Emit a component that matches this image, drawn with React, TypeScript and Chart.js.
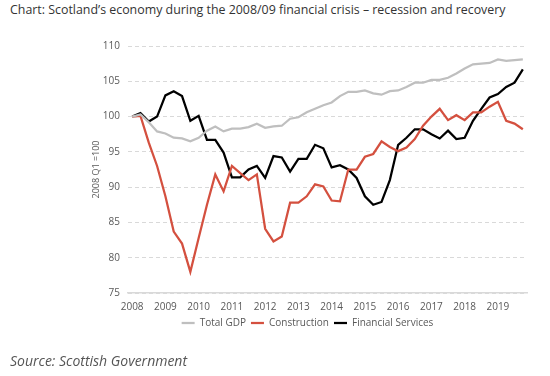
import React, { useEffect, useRef } from "react";
import { Chart, registerables } from "chart.js";

Chart.register(...registerables);

const years = ["2008", "2009", "2010", "2011", "2012", "2013", "2014", "2015", "2016", "2017", "2018", "2019"];
const quarters = years.flatMap((y) => [y + " Q1", y + " Q2", y + " Q3", y + " Q4"]);

const totalGDP = [
  100, 100.3, 99.2, 97.9, 97.6, 97.0, 96.9, 96.5, 97.0, 98.0, 98.6, 97.9,
  98.3, 98.3, 98.5, 99.0, 98.4, 98.6, 98.7, 99.7, 99.9, 100.6, 101.1, 101.6,
  102.0, 102.9, 103.5, 103.5, 103.7, 103.3, 103.1, 103.6, 103.7, 104.2, 104.8, 104.8,
  105.2, 105.2, 105.5, 106.1, 106.8, 107.4, 107.5, 107.6, 108.1, 107.9, 108.0, 108.1,
];
const construction = [
  100, 100.1, 96.3, 93.0, 88.7, 83.7, 82.0, 78.0, 82.8, 87.5, 91.8, 89.4,
  93.0, 92.0, 91.0, 91.8, 84.1, 82.3, 83.0, 87.8, 87.8, 88.7, 90.4, 90.1,
  88.1, 88.0, 92.5, 92.5, 94.3, 94.7, 96.5, 95.7, 95.1, 95.6, 96.8, 98.7,
  100.0, 101.1, 99.5, 100.2, 99.5, 100.6, 100.6, 101.4, 102.1, 99.4, 99.0, 98.2,
];
const financialServices = [
  100, 100.5, 99.3, 100.0, 103.0, 103.6, 102.9, 99.4, 100.1, 96.7, 96.7, 94.9,
  91.4, 91.4, 92.5, 93.0, 91.3, 94.4, 94.2, 92.2, 94.0, 94.0, 96.0, 95.5,
  92.8, 93.1, 92.5, 91.3, 88.7, 87.5, 87.9, 91.0, 96.0, 97.0, 98.2, 98.2,
  97.5, 96.9, 98.0, 96.8, 97.0, 99.4, 101.1, 102.7, 103.2, 104.2, 104.8, 106.7,
];

const seriesNames = ["Total GDP", "Construction", "Financial Services"];
const yTicks = [75, 80, 85, 90, 95, 100, 105, 110];

const FONT = "'Open Sans', 'Noto Sans', sans-serif";

export default function App() {
  const ref = useRef<HTMLCanvasElement | null>(null);

  useEffect(() => {
    if (!ref.current) return;
    const chart = new Chart(ref.current, {
      type: "line",
      data: {
        labels: quarters,
        datasets: [
          { label: seriesNames[0], data: totalGDP, borderColor: "#BFBFBF", backgroundColor: "#BFBFBF", borderWidth: 2.25 },
          { label: seriesNames[1], data: construction, borderColor: "#D4503F", backgroundColor: "#D4503F", borderWidth: 2.25 },
          { label: seriesNames[2], data: financialServices, borderColor: "#000000", backgroundColor: "#000000", borderWidth: 2.25 },
        ],
      },
      options: {
        responsive: false,
        animation: false,
        elements: { point: { radius: 0, hoverRadius: 0 }, line: { tension: 0 } },
        layout: { padding: { left: 88, top: 46, right: 23, bottom: 38 } },
        plugins: {
          tooltip: { enabled: false },
          legend: {
            position: "bottom",
            labels: {
              usePointStyle: true,
              pointStyle: "line",
              pointStyleWidth: 13,
              boxHeight: 10,
              padding: 5,
              color: "#595959",
              font: { family: FONT, size: 10 },
            },
          },
        },
        scales: {
          x: {
            type: "category",
            offset: true,
            grid: { display: false, drawTicks: false },
            border: { display: true, color: "#D9D9D9", width: 1.5 },
            ticks: {
              autoSkip: false,
              maxRotation: 0,
              padding: 8,
              color: "#595959",
              font: { family: FONT, size: 10 },
              callback: (_v: any, i: number) => (i % 4 === 0 ? years[i / 4] : ""),
            },
            afterFit: (s: any) => {
              s.height = 20;
            },
          },
          y: {
            min: 75,
            max: 110,
            afterBuildTicks: (s: any) => {
              s.ticks = yTicks.map((v) => ({ value: v }));
            },
            grid: { color: "#D9D9D9", lineWidth: 1, drawTicks: false },
            border: { display: false, dash: [4, 3] },
            ticks: {
              padding: 8,
              color: "#595959",
              font: { family: FONT, size: 10 },
            },
            title: {
              display: true,
              text: "2008 Q1 =100",
              color: "#595959",
              font: { family: FONT, size: 9 },
              padding: { top: 3, bottom: 0 },
            },
            afterFit: (s: any) => {
              s.width = 40;
            },
          },
        },
      },
    });
    return () => chart.destroy();
  }, []);

  return (
    <div style={{ position: "absolute", left: 0, top: 0, width: 550, height: 376, background: "#fff", overflow: "hidden" }}>
      <div
        style={{
          position: "absolute",
          left: 10,
          top: 1,
          fontFamily: FONT,
          fontSize: 12.4,
          color: "#333333",
          whiteSpace: "nowrap",
          lineHeight: "18px",
        }}
      >
        Chart: Scotland’s economy during the 2008/09 financial crisis – recession and recovery
      </div>
      <canvas ref={ref} width={550} height={376} style={{ position: "absolute", left: 0, top: 0, width: 550, height: 376 }} />
      <div
        style={{
          position: "absolute",
          left: 10,
          top: 351,
          fontFamily: FONT,
          fontSize: 14,
          fontStyle: "italic",
          color: "#555555",
          whiteSpace: "nowrap",
          lineHeight: "20px",
        }}
      >
        Source: Scottish Government
      </div>
    </div>
  );
}
